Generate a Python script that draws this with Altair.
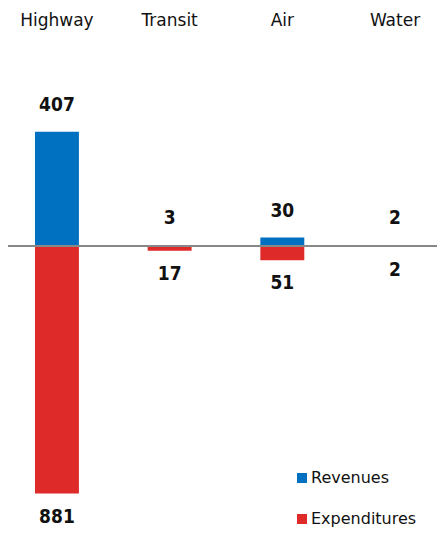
import altair as alt
import pandas as pd

categories = ["Highway", "Transit", "Air", "Water"]
revenues = [407, 3, 30, 2]
expenditures = [881, 17, 51, 2]
series = ["Revenues", "Expenditures"]
colors = ["#0070C0", "#DF2A2A"]

rows = []
for c, r, e in zip(categories, revenues, expenditures):
    rows.append({"category": c, "type": "Revenues", "value": r, "label": str(r)})
    rows.append({"category": c, "type": "Expenditures", "value": -e, "label": str(e)})
df = pd.DataFrame(rows)
cat_df = pd.DataFrame({"category": categories})

xscale = alt.Scale(domain=categories, paddingInner=0.61, paddingOuter=0.2085, align=0.574)
yscale = alt.Scale(domain=[-1007, 847], nice=False, zero=False)

base = alt.Chart(df)

bars = base.mark_bar().encode(
    x=alt.X("category:N", scale=xscale, axis=None, sort=categories),
    y=alt.Y("value:Q", scale=yscale, axis=None, stack=None),
    color=alt.Color(
        "type:N",
        scale=alt.Scale(domain=series, range=colors),
        legend=alt.Legend(
            title=None,
            orient="none",
            legendX=286,
            legendY=462,
            symbolType="square",
            symbolSize=100,
            symbolStrokeWidth=0,
            symbolOpacity=1,
            labelFontSize=16,
            labelFont="DejaVu Sans",
            labelColor="#111111",
            labelOffset=1,
            rowPadding=25,
            padding=0,
        ),
    ),
)

num_font = "DejaVu Sans Condensed"

rev_text = base.transform_filter(alt.datum.type == "Revenues").mark_text(
    dy=-27, baseline="middle", fontSize=19, font=num_font, fontWeight="bold", color="#111111"
).encode(
    x=alt.X("category:N", scale=xscale, sort=categories),
    y=alt.Y("value:Q", scale=yscale),
    text="label:N",
)

exp_text = base.transform_filter(alt.datum.type == "Expenditures").mark_text(
    dy=23, baseline="middle", fontSize=19, font=num_font, fontWeight="bold", color="#111111"
).encode(
    x=alt.X("category:N", scale=xscale, sort=categories),
    y=alt.Y("value:Q", scale=yscale),
    text="label:N",
)

zero_line = base.mark_rule(color="#888888", strokeWidth=2).encode(
    y=alt.Y("zero:Q", scale=yscale),
    x=alt.value(0),
    x2=alt.value(429),
).transform_calculate(zero="0")

cat_labels = alt.Chart(cat_df).mark_text(
    baseline="middle", fontSize=17, font="DejaVu Sans", color="#111111"
).encode(
    x=alt.X("category:N", scale=xscale, sort=categories),
    y=alt.value(13),
    text="category:N",
)

chart = alt.layer(bars, zero_line, rev_text, exp_text, cat_labels).properties(
    width=429,
    height=521,
    padding=0,
    autosize=alt.AutoSizeParams(type="none"),
).configure_view(stroke=None)

chart.save("out.html", embed_options={"renderer": "svg", "actions": False})
